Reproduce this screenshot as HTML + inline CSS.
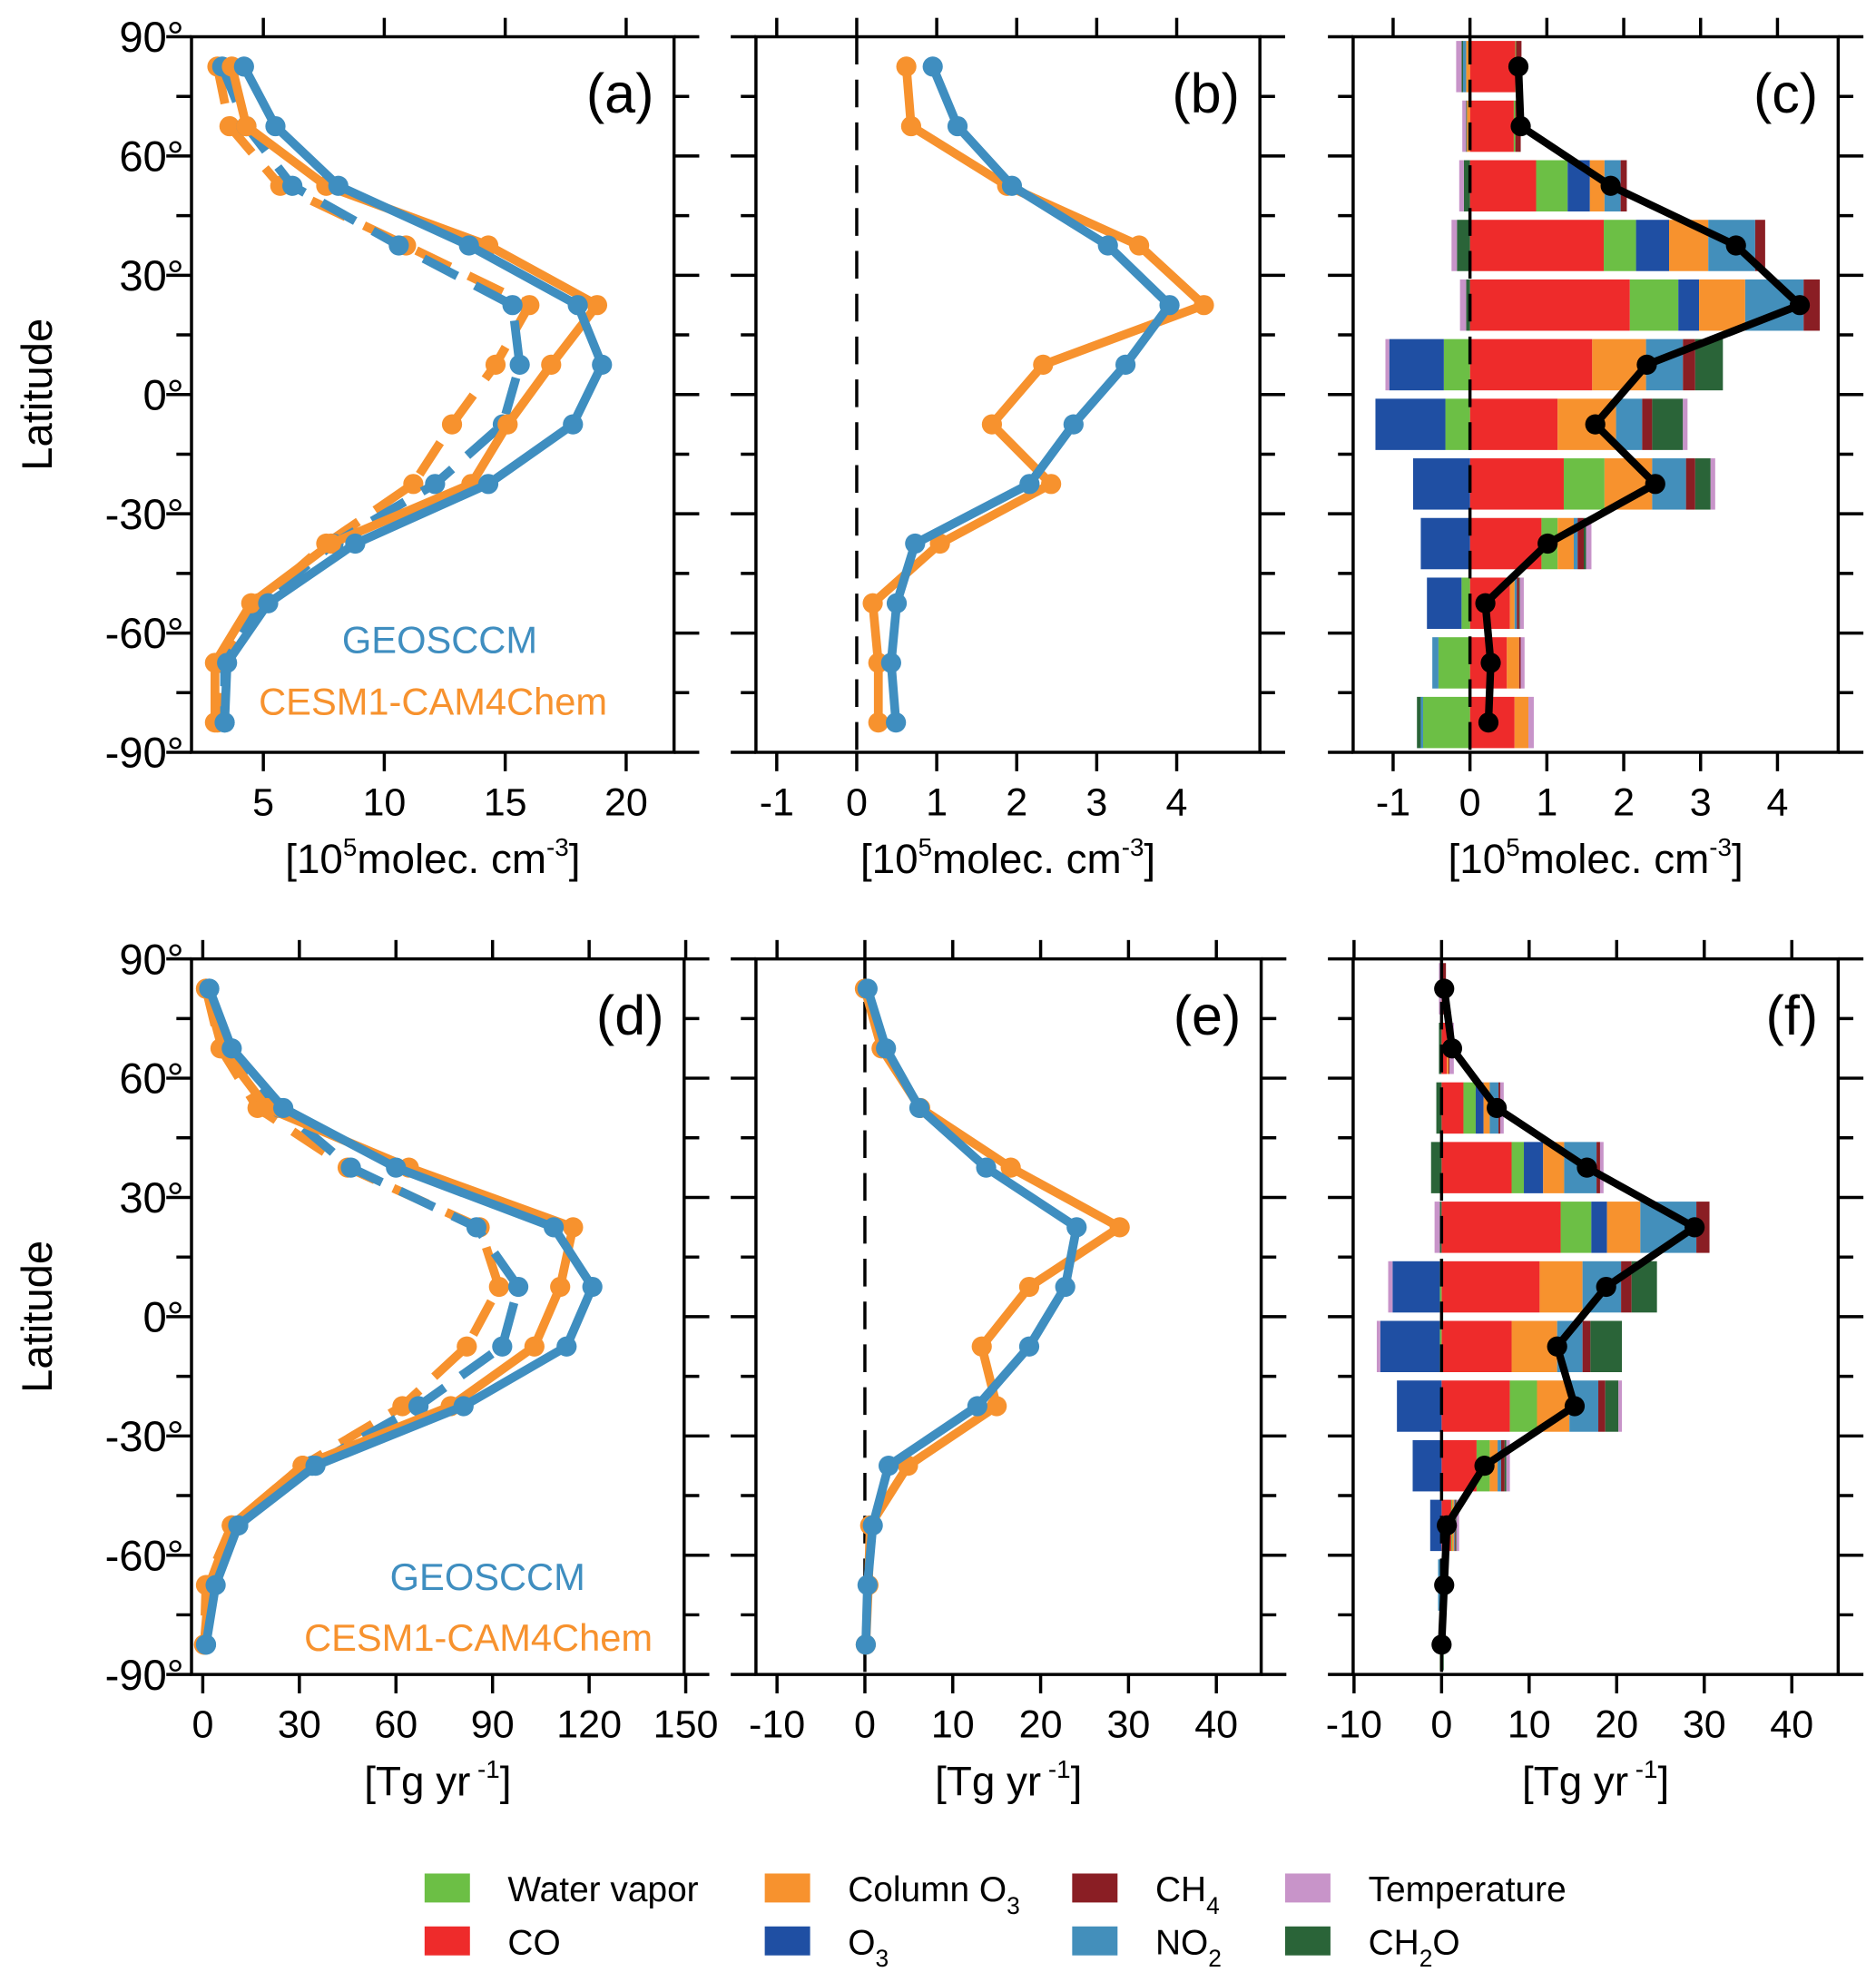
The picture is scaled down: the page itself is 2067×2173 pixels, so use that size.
<!DOCTYPE html>
<html><head><meta charset="utf-8"><style>
html,body{margin:0;padding:0;background:#fff;}
svg{display:block;}
text{font-family:"Liberation Sans",sans-serif;}
</style></head><body>
<svg id="fig" width="2067" height="2173" viewBox="0 0 1489 1565" xmlns="http://www.w3.org/2000/svg"></svg>
<script>
const lats = [82.5,67.5,52.5,37.5,22.5,7.5,-7.5,-22.5,-37.5,-52.5,-67.5,-82.5];
// panel a
const aGeosSolid = [4.2,5.5,8.1,13.5,18.0,19.0,17.8,14.3,8.8,5.2,3.5,3.4];
const aCesmSolid = [3.7,4.3,7.6,14.3,18.8,16.9,15.1,13.6,7.8,4.5,3.0,3.0];
const aGeosDash = [3.3,4.3,6.2,10.6,15.3,15.6,14.9,12.1,7.9,4.9,3.4,3.4];
const aCesmDash = [3.1,3.6,5.7,10.9,16.0,14.6,12.8,11.2,7.6,4.8,3.1,3.1];
// panel b
const bGeos = [0.95,1.26,1.94,3.14,3.91,3.36,2.71,2.16,0.73,0.5,0.43,0.49];
const bCesm = [0.62,0.68,1.88,3.53,4.34,2.33,1.69,2.43,1.04,0.2,0.27,0.27];
// panel d
const dGeosSolid = [2,9,25,60,109,121,113,81,35,11,4,1];
const dCesmSolid = [1,6,20,64,115,111,103,77,31,9,2,0.4];
const dGeosDash = [2,7,24,46,85,98,93,67,34,11,3.5,1];
const dCesmDash = [1,5.5,17,45,86,92,82,62,31,9,1,0.4];
// panel e
const eGeos = [0.3,2.4,6.2,13.8,24.1,22.8,18.7,12.8,2.7,0.9,0.3,0.1];
const eCesm = [0,1.9,6.3,16.6,29,18.7,13.3,15,4.9,0.6,0.4,0.1];
// contributions order
const factors = ["CO","Water vapor","O3","Column O3","NO2","CH4","CH2O","Temperature"];
const cContrib = [
 [0.59,0.01,0,-0.05,-0.04,0.07,-0.02,-0.07],
 [0.57,0.02,0,-0.04,0,0.07,-0.01,-0.05],
 [0.86,0.41,0.29,0.19,0.21,0.08,-0.08,-0.06],
 [1.74,0.42,0.43,0.51,0.61,0.13,-0.17,-0.07],
 [2.08,0.63,0.27,0.6,0.76,0.21,-0.05,-0.08],
 [1.59,-0.34,-0.71,0.7,0.48,0.16,0.36,-0.05],
 [1.14,-0.32,-0.91,0.76,0.34,0.13,0.4,0.06],
 [1.22,0.53,-0.74,0.62,0.44,0.12,0.2,0.06],
 [0.93,0.21,-0.64,0.21,0.05,0.08,0.03,0.07],
 [0.52,-0.11,-0.45,0.06,0.03,0.03,0.01,0.05],
 [0.48,-0.41,0,0.16,-0.08,0.02,0,0.05],
 [0.58,-0.61,0,0.18,-0.03,0,-0.05,0.07]
];
const cTotal = [0.63,0.66,1.83,3.46,4.29,2.3,1.63,2.41,1.01,0.2,0.27,0.24];
const fContrib = [
 [0.1,0,0,0,0,0.4,0,-0.3],
 [0.6,0,0,0.2,0,0.1,-0.3,0.5],
 [2.5,1.4,0.9,0.7,1.0,0.2,-0.6,0.4],
 [8.0,1.4,2.2,2.4,3.7,0.4,-1.2,0.4],
 [13.6,3.5,1.8,3.8,6.4,1.5,-0.2,-0.6],
 [11.2,-0.2,-5.4,4.9,4.4,1.2,2.9,-0.5],
 [8.0,-0.2,-6.8,5.2,2.9,0.9,3.6,-0.4],
 [7.8,3.1,-5.1,3.7,3.3,0.8,1.5,0.4],
 [4.0,1.5,-3.3,0.9,0.4,0.4,0.2,0.4],
 [1.1,0.1,-1.3,0.2,0.1,0.1,0.1,0.3],
 [0.3,0,-0.1,0,-0.3,0,0,0.25],
 [0.05,-0.2,0,0,0,0,0.2,0]
];
const fTotal = [0.3,1.2,6.3,16.6,28.9,18.8,13.2,15.2,4.9,0.6,0.3,0];
const colors = ["#ee2b2b","#6cbf45","#1f4fa3","#f7922e","#438fbb","#8a1e24","#2a6438","#c894c9"];
const latTicks = [90,60,30,0,-30,-60,-90];

const NS="http://www.w3.org/2000/svg";
const svg=document.getElementById('fig');
function el(tag,attrs,parent){const e=document.createElementNS(NS,tag);for(const k in attrs)e.setAttribute(k,attrs[k]);(parent||svg).appendChild(e);return e;}

function makePanel(name,x0,x1,dmin,dmax,ytop,ybot,xticks,label,xtitleKind){
  const g=el('g',{});
  
  
  const sx=v=>x0+(v-dmin)/(dmax-dmin)*(x1-x0);
  const sy=l=>ytop+(90-l)/180*(ybot-ytop);
  const fr=el('rect',{x:x0,y:ytop,width:x1-x0,height:ybot-ytop,fill:'none',stroke:'#000','stroke-width':2.5},g);
  
  
  for(let l=-90;l<=90;l+=15){
    const major=(l%30===0);const len=major?20:12;
    el('line',{x1:x0-len,x2:x0,y1:sy(l),y2:sy(l),stroke:'#000','stroke-width':2.5},g);
    el('line',{x1:x1,x2:x1+len,y1:sy(l),y2:sy(l),stroke:'#000','stroke-width':2.5},g);
  }
  xticks.forEach(v=>{
    el('line',{x1:sx(v),x2:sx(v),y1:ytop-15,y2:ytop,stroke:'#000','stroke-width':2.5},g);
    el('line',{x1:sx(v),x2:sx(v),y1:ybot,y2:ybot+15,stroke:'#000','stroke-width':2.5},g);
    const t=el('text',{x:sx(v),y:ybot+50,'font-size':31,'text-anchor':'middle'},g);
    t.textContent=String(v);
    
    
  });
  const cx=(x0+x1)/2;
  const tt=el('text',{x:cx,y:ybot+96,'font-size':33,'text-anchor':'middle'},g);
  
  
  if(xtitleKind==='conc'){
    tt.innerHTML='[10<tspan dy="-14" font-size="20">5</tspan><tspan dy="14">molec. cm</tspan><tspan dy="-14" font-size="20">-3</tspan><tspan dy="14">]</tspan>';
  } else {
    tt.innerHTML='[Tg yr<tspan dy="-14" font-size="20"> -1</tspan><tspan dy="14">]</tspan>';
  }
  const pl=el('text',{x:x1-16,y:ytop+60,'font-size':44,'text-anchor':'end'},g);
  pl.textContent='('+label+')';
  
  
  return {g,sx,sy};
}

function yLabels(ytop,ybot,x){
  latTicks.forEach(l=>{
    const y=ytop+(90-l)/180*(ybot-ytop);
    const t=el('text',{x:x,y:y+12,'font-size':34,'text-anchor':'end'});
    t.textContent=l+'°';
    
    
  });
}

function series(p,vals,color,dashed,name){
  const pts=vals.map((v,i)=>p.sx(v)+','+p.sy(lats[i])).join(' ');
  const pl=el('polyline',{points:pts,fill:'none',stroke:color,'stroke-width':7,'stroke-linejoin':'round'},p.g);
  if(dashed)pl.setAttribute('stroke-dasharray','30 16');
  
  
  vals.forEach((v,i)=>{
    const c=el('circle',{cx:p.sx(v),cy:p.sy(lats[i]),r:8,fill:color},p.g);
    
    
  });
}

function zeroLine(p,ytop,ybot){
  const l=el('line',{x1:p.sx(0),x2:p.sx(0),y1:ytop,y2:ybot,stroke:'#000','stroke-width':2.5,'stroke-dasharray':'22 12'},p.g);
  
  
}

function bars(p,contrib,total,name){
  const band=(p.sy(0)-p.sy(15));
  contrib.forEach((row,i)=>{
    const yc=p.sy(lats[i]);const h=band*0.86;
    let pos=0,neg=0;
    row.forEach((v,k)=>{
      if(v===0)return;
      let a,b;
      if(v>0){a=pos;b=pos+v;pos=b;}else{a=neg+v;b=neg;neg=a;}
      const r=el('rect',{x:p.sx(a),y:yc-h/2,width:Math.max(0,p.sx(b)-p.sx(a)),height:h,fill:colors[k]},p.g);
      
      
    });
  });
}
function totals(p,total,name){
  const tl=el('polyline',{points:total.map((v,i)=>p.sx(v)+','+p.sy(lats[i])).join(' '),fill:'none',stroke:'#000','stroke-width':6,'stroke-linejoin':'round'},p.g);
  
  
  total.forEach((v,i)=>{
    const c=el('circle',{cx:p.sx(v),cy:p.sy(lats[i]),r:8,fill:'#000'},p.g);
    
    
  });
}

const BL='#3f8ec0', OR='#f7922e';
const T0=29,T1=597,B0=761,B1=1329;
const pa=makePanel('a',152,535,2.03,21.98,T0,T1,[5,10,15,20],'a','conc');
series(pa,aCesmDash,OR,true,'cesm-dashed');
series(pa,aGeosDash,BL,true,'geosccm-dashed');
series(pa,aCesmSolid,OR,false,'cesm');
series(pa,aGeosSolid,BL,false,'geosccm');
const pb=makePanel('b',600,1000,-1.26,5.04,T0,T1,[-1,0,1,2,3,4],'b','conc');
zeroLine(pb,T0,T1);
series(pb,bCesm,OR,false,'cesm');
series(pb,bGeos,BL,false,'geosccm');
const pc=makePanel('c',1074,1459,-1.52,4.79,T0,T1,[-1,0,1,2,3,4],'c','conc');
bars(pc,cContrib,cTotal,'c');
zeroLine(pc,T0,T1);
totals(pc,cTotal,'c');
const pd=makePanel('d',152,543,-3.5,149.5,B0,B1,[0,30,60,90,120,150],'d','tg');
series(pd,dCesmDash,OR,true,'cesm-dashed');
series(pd,dGeosDash,BL,true,'geosccm-dashed');
series(pd,dCesmSolid,OR,false,'cesm');
series(pd,dGeosSolid,BL,false,'geosccm');
const pe=makePanel('e',600,1001,-12.4,45.1,B0,B1,[-10,0,10,20,30,40],'e','tg');
zeroLine(pe,B0,B1);
series(pe,eCesm,OR,false,'cesm');
series(pe,eGeos,BL,false,'geosccm');
const pf=makePanel('f',1074,1459,-10.1,45.3,B0,B1,[-10,0,10,20,30,40],'f','tg');
bars(pf,fContrib,fTotal,'f');
zeroLine(pf,B0,B1);
totals(pf,fTotal,'f');

yLabels(T0,T1,146);
yLabels(B0,B1,146);

[[313,'y-axis-title-top'],[1045,'y-axis-title-bottom']].forEach(([y,n])=>{
  const t=el('text',{x:0,y:0,'font-size':34,'text-anchor':'middle',transform:'translate(41,'+y+') rotate(-90)'});
  t.textContent='Latitude';
  
  
});

[[349,518,482,567],[387,1262,518,1310]].forEach(([x1,y1,x2,y2])=>{
  const a=el('text',{x:x1,y:y1,'font-size':30,'text-anchor':'middle',fill:BL});
  a.textContent='GEOSCCM';
  
  
  const b=el('text',{x:x2,y:y2,'font-size':30,'text-anchor':'end',fill:OR});
  b.textContent='CESM1-CAM4Chem';
  
  
});

const leg=el('g',{});


const legItems=[
 [337,1499,1,'Water vapor'],[337,1541,0,'CO'],
 [607,1499,3,'Column O<tspan dy="10" font-size="19">3</tspan>'],[607,1541,2,'O<tspan dy="10" font-size="19">3</tspan>'],
 [851,1499,5,'CH<tspan dy="10" font-size="19">4</tspan>'],[851,1541,4,'NO<tspan dy="10" font-size="19">2</tspan>'],
 [1020,1499,7,'Temperature'],[1020,1541,6,'CH<tspan dy="10" font-size="19">2</tspan><tspan dy="-10">O</tspan>']
];
legItems.forEach(([x,y,k,label])=>{
  const g=el('g',{},leg);
  
  
  el('rect',{x:x,y:y-12,width:36,height:23,fill:colors[k]},g);
  const t=el('text',{x:x+66,y:y+10,'font-size':28},g);
  t.innerHTML=label;
});
</script>
</body></html>
